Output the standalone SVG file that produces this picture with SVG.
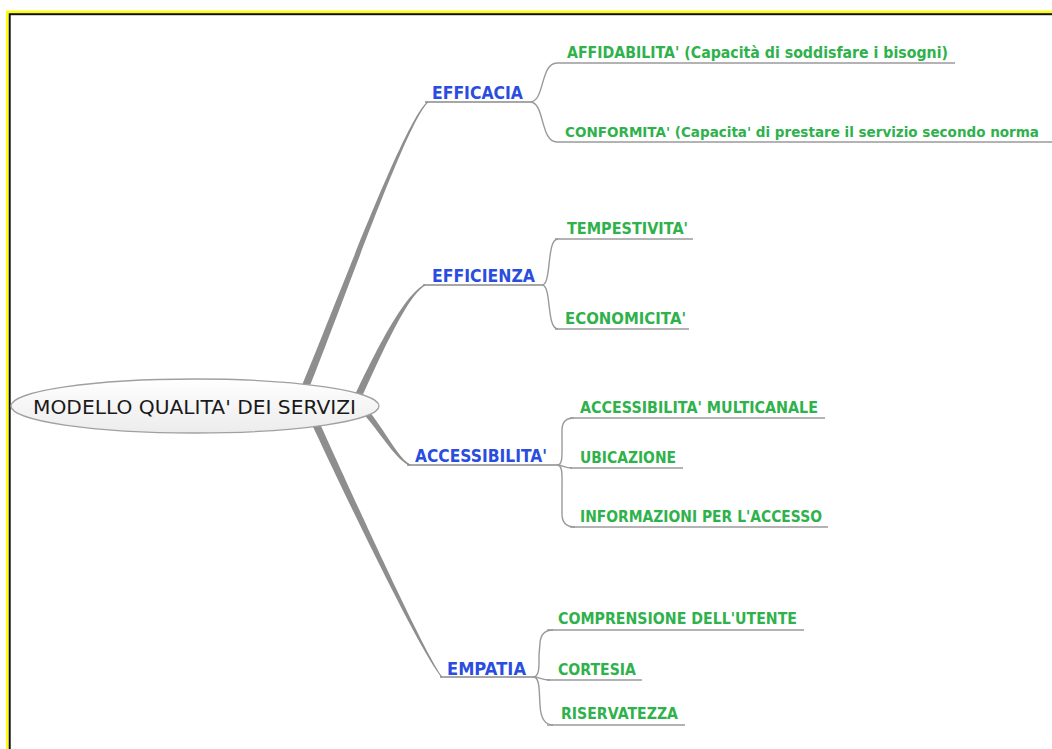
<svg xmlns="http://www.w3.org/2000/svg" width="1052" height="749" viewBox="0 0 1052 749">
<style>
.cat{font-family:"DejaVu Sans","Liberation Sans",sans-serif;font-weight:bold;font-size:17.5px;fill:#2a4de0}
.leaf{font-family:"DejaVu Sans","Liberation Sans",sans-serif;font-weight:bold;font-size:15.5px;fill:#2fb14c}
.leafc{font-family:"DejaVu Sans Condensed","Liberation Sans Narrow","DejaVu Sans",sans-serif;font-weight:bold;font-size:14px;fill:#2fb14c}
.root{font-family:"DejaVu Sans","Liberation Sans",sans-serif;font-size:20px;fill:#1a1a1a}
.ul{stroke:#9a9a9a;stroke-width:1.4;fill:none}
.cul{stroke:#8a8a8a;stroke-width:1.6;fill:none}
.br{fill:#8e8e8e}
.ln{stroke:#9a9a9a;stroke-width:1.4;fill:none}
</style>
<defs>
<linearGradient id="eg" x1="0" y1="0" x2="0" y2="1">
<stop offset="0" stop-color="#ffffff"/>
<stop offset="1" stop-color="#ececec"/>
</linearGradient>
</defs>
<rect x="0" y="0" width="1052" height="749" fill="#ffffff"/>
<rect x="7.2" y="11.8" width="1100" height="800" fill="none" stroke="#ffff00" stroke-width="2.4"/>
<rect x="9.7" y="14.2" width="1100" height="800" fill="none" stroke="#111111" stroke-width="2"/>

<g id="connectors">
<path class="br" d="M303.6,401.6 C333,331.3 406.4,120.8 428,102.75 L428,101.25 C403.6,119.2 327,328.7 296.4,398.4 Z"/>
<path class="br" d="M355.3,411.5 C378.2,361.5 406.6,295.8 425,285.75 L425,284.25 C403.4,294.2 371.8,358.5 348.7,408.5 Z"/>
<path class="br" d="M343,398 C368,408 391.5,459.2 410,465.7 L410,464.3 C394.5,456.8 372,402 347,392 Z"/>
<path class="br" d="M308.6,398.4 C333.6,453.4 421.5,649.3 442,676.3 L442,677.7 C418.5,650.7 326.4,456.6 301.4,401.6 Z"/>
<path class="ln" d="M530,102 C545,102 540,63 557,63"/>
<path class="ln" d="M530,102 C545,102 540,142 557,142"/>
<path class="ln" d="M542,285 C552,285 546,239 558,239"/>
<path class="ln" d="M542,285 C552,285 546,329 558,329"/>
<path class="ln" d="M557,465 C563,465 562,455 562,440 L562,430 Q562,418 574,418"/>
<path class="ln" d="M557,465 C563,465 564,468 572,468"/>
<path class="ln" d="M557,465 C563,465 562,475 562,490 L562,514 Q562,527 575,527"/>
<path class="ln" d="M533,677 C540,677 539,665 539,655 L540,643 Q541,630 553,630"/>
<path class="ln" d="M533,677 C540,677 541,680 550,680"/>
<path class="ln" d="M533,677 C540,677 539,690 540,705 Q541,725 553,725"/>
</g>

<g id="root">
<ellipse cx="195" cy="406" rx="184" ry="27" fill="url(#eg)" stroke="#a0a0a0" stroke-width="1.3"/>
<text class="root" x="33" y="414" textLength="323" lengthAdjust="spacingAndGlyphs">MODELLO QUALITA' DEI SERVIZI</text>
</g>

<g id="efficacia">
<line class="cul" x1="425" y1="102" x2="530" y2="102"/>
<text class="cat" x="432" y="99" textLength="91" lengthAdjust="spacingAndGlyphs">EFFICACIA</text>
</g>
<g id="efficienza">
<line class="cul" x1="423" y1="285" x2="542" y2="285"/>
<text class="cat" x="432" y="282" textLength="103" lengthAdjust="spacingAndGlyphs">EFFICIENZA</text>
</g>
<g id="accessibilita">
<line class="cul" x1="407" y1="465" x2="557" y2="465"/>
<text class="cat" x="415" y="462" textLength="132" lengthAdjust="spacingAndGlyphs">ACCESSIBILITA'</text>
</g>
<g id="empatia">
<line class="cul" x1="440" y1="677" x2="533" y2="677"/>
<text class="cat" x="447" y="675" textLength="79" lengthAdjust="spacingAndGlyphs">EMPATIA</text>
</g>

<g id="affidabilita">
<line class="ul" x1="557" y1="63" x2="955" y2="63"/>
<text class="leaf" x="567" y="58" textLength="381" lengthAdjust="spacingAndGlyphs">AFFIDABILITA' (Capacità di soddisfare i bisogni)</text>
</g>
<g id="conformita">
<line class="ul" x1="557" y1="142" x2="1052" y2="142"/>
<text class="leafc" x="565" y="137" textLength="474" lengthAdjust="spacingAndGlyphs">CONFORMITA' (Capacita' di prestare il servizio secondo norma</text>
</g>
<g id="tempestivita">
<line class="ul" x1="555" y1="239" x2="693" y2="239"/>
<text class="leaf" x="567" y="234" textLength="121" lengthAdjust="spacingAndGlyphs">TEMPESTIVITA'</text>
</g>
<g id="economicita">
<line class="ul" x1="555" y1="329" x2="689" y2="329"/>
<text class="leaf" x="565" y="324" textLength="121" lengthAdjust="spacingAndGlyphs">ECONOMICITA'</text>
</g>
<g id="multicanale">
<line class="ul" x1="570" y1="418" x2="825" y2="418"/>
<text class="leaf" x="580" y="413" textLength="238" lengthAdjust="spacingAndGlyphs">ACCESSIBILITA' MULTICANALE</text>
</g>
<g id="ubicazione">
<line class="ul" x1="570" y1="468" x2="683" y2="468"/>
<text class="leaf" x="580" y="463" textLength="96" lengthAdjust="spacingAndGlyphs">UBICAZIONE</text>
</g>
<g id="informazioni">
<line class="ul" x1="570" y1="527" x2="828" y2="527"/>
<text class="leaf" x="580" y="522" textLength="242" lengthAdjust="spacingAndGlyphs">INFORMAZIONI PER L'ACCESSO</text>
</g>
<g id="comprensione">
<line class="ul" x1="547" y1="630" x2="804" y2="630"/>
<text class="leaf" x="558" y="624" textLength="239" lengthAdjust="spacingAndGlyphs">COMPRENSIONE DELL'UTENTE</text>
</g>
<g id="cortesia">
<line class="ul" x1="547" y1="680" x2="642" y2="680"/>
<text class="leaf" x="558" y="675" textLength="78" lengthAdjust="spacingAndGlyphs">CORTESIA</text>
</g>
<g id="riservatezza">
<line class="ul" x1="547" y1="725" x2="685" y2="725"/>
<text class="leaf" x="561" y="719" textLength="117" lengthAdjust="spacingAndGlyphs">RISERVATEZZA</text>
</g>
</svg>
